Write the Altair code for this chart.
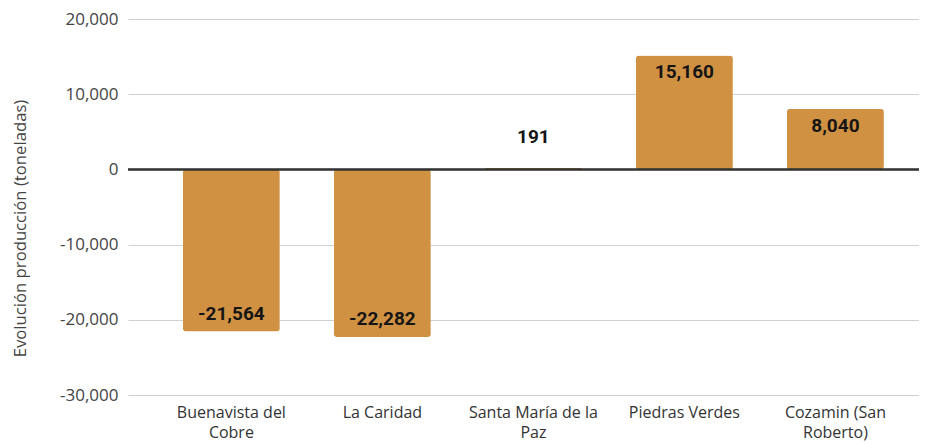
import altair as alt
import pandas as pd

categories = ["Buenavista del Cobre", "La Caridad", "Santa María de la Paz",
              "Piedras Verdes", "Cozamin (San Roberto)"]
label_lines = [["Buenavista del", "Cobre"], ["La Caridad"], ["Santa María de la", "Paz"],
               ["Piedras Verdes"], ["Cozamin (San", "Roberto)"]]
values = [-21564, -22282, 191, 15160, 8040]
y_ticks = [-30000, -20000, -10000, 0, 10000, 20000]

df = pd.DataFrame({"mina": categories, "valor": values})

# label expression for wrapped category labels
expr = "datum.label"
for cat, lines in zip(reversed(categories), reversed(label_lines)):
    arr = "[" + ",".join("'" + l + "'" for l in lines) + "]"
    expr = f"datum.label === '{cat}' ? {arr} : ({expr})"

BAR = "#D09143"
num_expr = "replace(format(datum.value, ',.0f'), '\u2212', '-')"

x = alt.X("mina:N", sort=categories, title=None,
          scale=alt.Scale(paddingInner=0.358, paddingOuter=0.298, align=0.61),
          axis=alt.Axis(labelAngle=0, labelExpr=expr, labelFont="Open Sans",
                        labelFontSize=16, labelColor="#333", labelLineHeight=20,
                        labelBaseline="top", labelPadding=9, ticks=False,
                        tickSize=0, domain=False, labelLimit=300))

y = alt.Y("valor:Q", title="Evolución producción (toneladas)",
          scale=alt.Scale(domain=[-30000, 20000], nice=False),
          axis=alt.Axis(values=y_ticks, labelExpr=num_expr, labelFont="Open Sans",
                        labelFontSize=17, labelColor="#444", labelPadding=10,
                        ticks=False, tickSize=0, domain=False,
                        gridColor="#d0d0d0", gridWidth=1,
                        titleFont="Open Sans", titleFontSize=16.7,
                        titleFontWeight="normal", titleColor="#444",
                        titleAngle=270, titleX=-108, titleY=209,
                        titleAlign="center", titleBaseline="middle"))

base = alt.Chart(df).transform_calculate(
    txt="replace(format(datum.valor, ',.0f'), '\u2212', '-')")

bars = base.mark_bar(color=BAR, cornerRadius=3).encode(x=x, y=y)

zero = alt.Chart(df).mark_rule(color="#333", strokeWidth=1.5).encode(y=alt.datum(0))

text_common = dict(font="Roboto", fontSize=19, fontWeight="bold", color="#151515",
                   baseline="middle", align="center")

pos = base.transform_filter("datum.valor >= 2000").mark_text(
    dy=17, **text_common).encode(x=x, y=y, text="txt:N")
neg = base.transform_filter("datum.valor <= -2000").mark_text(
    dy=-18, **text_common).encode(x=x, y=y, text="txt:N")
small = base.transform_filter("abs(datum.valor) < 2000").mark_text(
    dy=-31, **text_common).encode(x=x, y=y, text="txt:N")

chart = alt.layer(bars, zero, pos, neg, small).properties(
    width=791, height=376,
    autosize=alt.AutoSizeParams(type="none"),
    padding={"left": 120, "top": 11, "right": 0, "bottom": 47},
).configure_view(stroke=None)

chart.save("out.html", embed_options={"renderer": "svg", "actions": False})
